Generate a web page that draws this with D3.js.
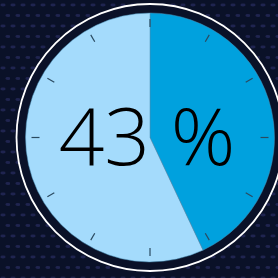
<!DOCTYPE html>
<html>
<head>
<meta charset="utf-8">
<script src="https://cdn.jsdelivr.net/npm/d3@7"></script>
<style>
	html, body { margin: 0; padding: 0; background: #0a1128; }
	svg { display: block; }
</style>
</head>
<body>
<div id="gauge-div" style="width:278px;height:278px"></div>
<script>

const labels = ["done", "rest"];
const values = [43, 57];
const tickCount = 12;
const colors = ["#00a1de", "#a4dbfc"];

let gauge_div = d3.select("#gauge-div");
let divWidth = gauge_div.node().clientWidth;
let divHeight = gauge_div.node().clientHeight;

let svg = gauge_div.append("svg")
	.attr("width", divWidth)
	.attr("height", divHeight);

// dotted background
let defs = svg.append("defs");
let pat = defs.append("pattern")
	.attr("id", "dots")
	.attr("width", 10)
	.attr("height", 21)
	.attr("patternUnits", "userSpaceOnUse");
pat.append("ellipse").attr("cx", 3).attr("cy", 5).attr("rx", 2.6).attr("ry", 1.4).attr("fill", "#1f2450");
pat.append("ellipse").attr("cx", 8).attr("cy", 15.5).attr("rx", 2.6).attr("ry", 1.4).attr("fill", "#1f2450");

svg.append("rect").attr("width", divWidth).attr("height", divHeight).attr("fill", "#0a1128");
svg.append("rect").attr("width", divWidth).attr("height", divHeight).attr("fill", "url(#dots)");

const cx = 150, cy = 137.5, r = 124.5;

let g = svg.append("g").attr("transform", `translate(${cx},${cy})`);

// outer ring
g.append("circle").attr("r", 134).attr("fill", "#0a1128");
g.append("circle").attr("r", 133.5).attr("fill", "none").attr("stroke", "#ffffff").attr("stroke-width", 1.8);

const pie = d3.pie().sort(null).value(d => d);
const arc = d3.arc().innerRadius(0).outerRadius(r);

g.selectAll("path.slice")
	.data(pie(values))
	.enter()
	.append("path")
	.attr("class", "slice")
	.attr("d", arc)
	.attr("fill", (d, i) => colors[i])
	.attr("stroke", "#4a8fb5")
	.attr("stroke-width", 0.5);

// tick marks
const angle = d3.scaleLinear().domain([0, tickCount]).range([0, 2 * Math.PI]);
g.selectAll("line.tick")
	.data(d3.range(tickCount))
	.enter()
	.append("line")
	.attr("class", "tick")
	.attr("x1", d => Math.sin(angle(d)) * 110.5)
	.attr("y1", d => -Math.cos(angle(d)) * 110.5)
	.attr("x2", d => Math.sin(angle(d)) * 118.5)
	.attr("y2", d => -Math.cos(angle(d)) * 118.5)
	.attr("stroke", "#2a4a60")
	.attr("stroke-width", 1.2);

g.append("text")
	.attr("x", -3)
	.attr("y", 27.5)
	.attr("text-anchor", "middle")
	.style("font-family", "'Open Sans', Lato, sans-serif")
	.style("font-weight", 300)
	.style("font-size", "80px")
	.attr("fill", "#000")
	.text(values[0] + " %");

</script>
</body>
</html>
